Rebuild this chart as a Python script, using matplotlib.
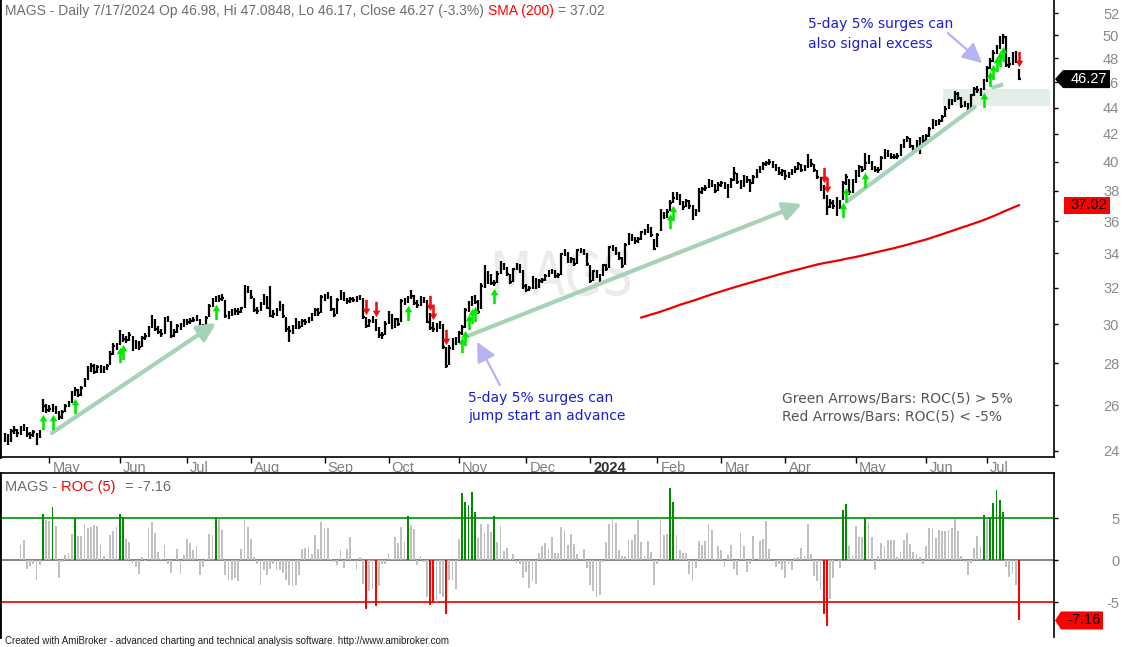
import numpy as np
import pandas as pd
import matplotlib
matplotlib.use("Agg")
import matplotlib.pyplot as plt
import matplotlib.transforms as mtransforms
from matplotlib.path import Path
from matplotlib.textpath import TextPath
from matplotlib.font_manager import FontProperties
from matplotlib.patches import PathPatch, Polygon, Rectangle
from matplotlib.ticker import NullLocator

plt.rcParams['font.family'] = ['Liberation Sans', 'DejaVu Sans']

# MAGS daily bars, Apr 2023 - Jul 17 2024
close = [
    24.55, 24.40, 24.85, 24.90, 24.75, 24.95, 25.00, 24.70, 24.65, 24.80,
    24.40, 24.80, 25.95, 25.80, 25.85, 25.90, 25.70, 25.45, 25.70, 25.95,
    26.10, 26.55, 26.70, 26.50, 26.80, 27.20, 27.70, 27.85, 27.60, 27.80,
    27.70, 27.75, 27.85, 28.45, 28.85, 28.80, 29.30, 29.25, 29.20, 29.45,
    28.75, 29.10, 28.80, 29.30, 29.40, 29.80, 30.40, 29.75, 29.60, 29.50,
    30.30, 30.30, 29.40, 29.60, 29.90, 29.85, 30.20, 30.10, 30.20, 30.25,
    30.35, 29.75, 29.90, 30.35, 31.00, 31.30, 31.40, 31.35, 31.45, 30.44,
    30.55, 30.65, 30.69, 30.66, 30.85, 32.02, 31.88, 31.46, 30.78, 30.70,
    31.09, 31.53, 30.89, 30.47, 30.56, 30.72, 31.15, 30.43, 29.74, 29.67,
    29.77, 30.25, 29.88, 30.16, 30.12, 30.25, 30.46, 30.78, 30.58, 31.51,
    31.40, 31.62, 30.83, 30.52, 31.32, 31.78, 31.34, 31.25, 31.37, 31.32,
    31.40, 31.47, 30.38, 29.90, 30.16, 30.33, 29.77, 29.44, 29.42, 30.04,
    30.60, 29.83, 30.26, 30.04, 31.24, 31.27, 31.41, 31.53, 31.15, 31.05,
    31.43, 31.33, 30.14, 29.80, 29.75, 29.87, 30.08, 28.81, 27.85, 28.79,
    29.18, 29.06, 29.53, 29.84, 30.78, 31.11, 31.41, 31.23, 30.65, 32.10,
    32.12, 32.76, 32.29, 32.27, 32.81, 33.44, 33.12, 32.77, 32.32, 33.06,
    33.34, 32.99, 32.08, 31.88, 31.99, 32.51, 32.07, 32.37, 32.42, 32.66,
    32.95, 32.97, 32.66, 32.71, 33.97, 34.14, 33.56, 33.67, 33.35, 34.22,
    34.19, 34.01, 33.37, 32.38, 32.95, 32.69, 32.62, 33.32, 33.09, 34.37,
    34.31, 34.05, 33.72, 33.26, 34.54, 35.13, 34.87, 34.77, 34.86, 35.30,
    35.31, 35.67, 35.12, 34.30, 35.12, 36.50, 36.30, 36.60, 37.20, 37.50,
    37.70, 37.20, 36.90, 37.30, 37.00, 36.60, 36.50, 37.90, 38.10, 38.20,
    38.60, 38.40, 38.00, 38.40, 38.50, 38.30, 38.20, 38.70, 39.20, 38.60,
    38.30, 38.90, 38.70, 38.50, 38.90, 39.30, 39.50, 39.80, 39.90, 40.00,
    39.70, 39.50, 39.20, 39.30, 39.00, 39.10, 39.30, 39.50, 39.80, 39.40,
    39.60, 40.10, 39.80, 39.40, 38.90, 38.50, 37.60, 36.90, 37.20, 37.00,
    36.80, 37.20, 38.50, 38.90, 37.90, 38.60, 38.90, 39.60, 39.40, 39.90,
    39.98, 39.55, 39.40, 39.38, 40.26, 40.66, 40.50, 40.35, 40.32, 40.42,
    41.07, 41.47, 41.66, 41.11, 40.82, 41.38, 41.64, 41.49, 41.81, 42.39,
    42.91, 42.76, 42.98, 43.27, 43.87, 44.45, 44.41, 45.09, 44.78, 44.09,
    44.38, 43.66, 44.95, 45.45, 45.37, 45.09, 46.02, 47.15, 47.81, 48.45,
    48.88, 49.33, 49.86, 47.45, 47.50, 48.10, 47.85, 46.27,
]
high = [
    24.75, 24.70, 24.95, 25.05, 24.95, 25.05, 25.15, 25.00, 24.80, 24.90,
    24.75, 24.90, 26.30, 26.05, 26.00, 26.05, 25.95, 25.75, 25.80, 26.05,
    26.20, 26.65, 26.85, 26.75, 26.90, 27.30, 27.85, 28.00, 27.95, 27.90,
    27.90, 27.85, 27.95, 28.60, 29.00, 29.00, 29.70, 29.50, 29.40, 29.60,
    29.40, 29.20, 29.15, 29.40, 29.55, 29.90, 30.50, 30.30, 29.90, 29.75,
    30.40, 30.45, 30.20, 29.75, 30.00, 30.05, 30.30, 30.30, 30.35, 30.40,
    30.50, 30.30, 30.00, 30.45, 31.10, 31.45, 31.55, 31.60, 31.65, 31.30,
    30.70, 30.80, 30.85, 30.85, 30.95, 32.15, 32.10, 31.90, 31.40, 30.95,
    31.20, 31.65, 31.55, 32.10, 30.75, 30.85, 31.25, 31.10, 30.40, 29.90,
    29.95, 30.35, 30.20, 30.30, 30.30, 30.40, 30.60, 30.90, 30.85, 31.60,
    31.65, 31.75, 31.55, 30.90, 31.45, 31.90, 31.75, 31.45, 31.50, 31.50,
    31.55, 31.60, 31.40, 30.40, 30.30, 30.45, 30.30, 29.85, 29.60, 30.15,
    30.70, 30.55, 30.35, 30.35, 31.35, 31.45, 31.55, 31.90, 31.60, 31.30,
    31.55, 31.50, 31.30, 30.60, 30.10, 30.05, 30.20, 30.00, 28.80, 28.90,
    29.30, 29.35, 29.65, 29.95, 30.90, 31.25, 31.55, 31.60, 31.30, 32.30,
    33.30, 32.95, 32.80, 32.45, 32.95, 33.55, 33.45, 33.20, 32.80, 33.15,
    33.45, 33.40, 33.00, 32.20, 32.10, 32.65, 32.55, 32.50, 32.55, 32.80,
    33.05, 33.10, 33.00, 32.85, 34.05, 34.30, 34.10, 33.80, 33.75, 34.30,
    34.35, 34.25, 34.00, 33.30, 33.05, 33.00, 32.80, 33.40, 33.40, 34.45,
    34.50, 34.40, 34.10, 33.80, 34.65, 35.25, 35.20, 35.00, 35.00, 35.40,
    35.50, 35.80, 35.65, 34.90, 35.25, 36.80, 36.60, 36.75, 37.35, 37.90,
    37.90, 37.75, 37.30, 37.45, 37.40, 37.05, 36.75, 38.20, 38.25, 38.35,
    38.75, 38.70, 38.45, 38.55, 38.65, 38.60, 38.45, 38.85, 39.60, 39.20,
    38.70, 39.05, 39.00, 38.80, 39.05, 39.45, 39.65, 39.95, 40.05, 40.15,
    40.05, 39.80, 39.60, 39.45, 39.40, 39.25, 39.45, 39.65, 39.95, 39.85,
    39.75, 40.50, 40.20, 39.85, 39.40, 38.95, 38.40, 37.70, 37.45, 37.40,
    37.55, 37.35, 38.65, 39.10, 38.80, 38.75, 39.40, 39.75, 39.70, 40.60,
    40.45, 40.05, 39.70, 39.60, 40.40, 40.90, 40.85, 40.60, 40.55, 40.60,
    41.25, 41.65, 41.85, 41.70, 41.20, 41.55, 41.80, 41.90, 42.00, 42.55,
    43.10, 43.05, 43.15, 43.40, 44.10, 44.65, 44.70, 45.30, 45.20, 44.85,
    44.55, 44.35, 45.10, 45.65, 45.70, 45.55, 46.25, 47.35, 48.05, 48.70,
    49.15, 49.95, 50.10, 49.90, 48.10, 48.55, 48.60, 47.08,
]
low = [
    24.35, 24.25, 24.35, 24.70, 24.60, 24.65, 24.85, 24.60, 24.50, 24.60,
    24.25, 24.55, 25.70, 25.65, 25.70, 25.70, 25.60, 25.35, 25.40, 25.70,
    25.90, 26.10, 26.45, 26.40, 26.45, 26.85, 27.20, 27.60, 27.50, 27.55,
    27.55, 27.55, 27.65, 27.90, 28.40, 28.65, 28.90, 29.10, 29.05, 29.15,
    28.60, 28.70, 28.65, 28.80, 29.20, 29.35, 29.80, 29.65, 29.50, 29.35,
    29.50, 30.10, 29.30, 29.35, 29.55, 29.70, 29.85, 29.95, 30.00, 30.10,
    30.15, 29.60, 29.70, 29.90, 30.40, 30.95, 31.20, 31.20, 31.25, 30.35,
    30.30, 30.45, 30.50, 30.50, 30.60, 30.90, 31.70, 31.35, 30.65, 30.55,
    30.70, 31.05, 30.80, 30.40, 30.35, 30.45, 30.70, 30.35, 29.60, 29.10,
    29.50, 29.75, 29.75, 29.85, 29.95, 30.05, 30.20, 30.45, 30.45, 30.60,
    31.25, 31.35, 30.70, 30.40, 30.55, 31.30, 31.25, 31.10, 31.15, 31.20,
    31.20, 31.30, 30.30, 29.80, 29.85, 30.05, 29.65, 29.30, 29.25, 29.45,
    30.00, 29.75, 29.80, 29.90, 30.10, 31.05, 31.15, 31.35, 31.05, 30.90,
    31.00, 31.15, 30.05, 29.70, 29.60, 29.60, 29.75, 28.70, 27.75, 27.90,
    28.65, 28.90, 29.00, 29.45, 29.80, 30.65, 31.00, 31.10, 30.55, 30.80,
    32.00, 32.20, 32.15, 32.10, 32.25, 32.80, 33.00, 32.65, 32.20, 32.35,
    33.00, 32.85, 31.95, 31.75, 31.80, 31.95, 31.95, 32.00, 32.25, 32.40,
    32.60, 32.80, 32.55, 32.55, 32.75, 33.85, 33.45, 33.45, 33.25, 33.40,
    34.00, 33.90, 33.25, 32.25, 32.40, 32.55, 32.20, 32.65, 32.95, 33.15,
    34.15, 33.90, 33.60, 33.15, 33.30, 34.50, 34.75, 34.60, 34.65, 34.85,
    35.15, 35.25, 35.00, 34.20, 34.40, 35.40, 36.15, 36.20, 36.65, 37.15,
    37.35, 37.05, 36.70, 36.90, 36.80, 36.10, 36.30, 36.60, 37.80, 37.95,
    38.15, 38.25, 37.85, 37.95, 38.25, 38.10, 37.50, 38.15, 38.65, 38.45,
    38.10, 38.25, 38.50, 37.90, 38.45, 38.85, 39.20, 39.40, 39.65, 39.75,
    39.55, 39.30, 39.05, 39.00, 38.70, 38.85, 39.05, 39.20, 39.40, 39.25,
    39.30, 39.55, 39.60, 39.25, 38.75, 38.00, 37.45, 36.40, 36.85, 36.80,
    36.30, 36.75, 37.40, 38.40, 37.70, 37.85, 38.50, 38.95, 39.25, 39.40,
    39.80, 39.40, 39.25, 39.20, 39.40, 40.20, 40.35, 40.20, 40.15, 40.20,
    40.40, 41.00, 41.40, 41.00, 40.65, 40.80, 40.55, 41.35, 41.45, 41.80,
    42.35, 42.60, 42.70, 42.90, 43.25, 43.90, 44.20, 44.40, 44.60, 43.95,
    44.05, 43.55, 43.70, 44.90, 45.15, 44.90, 45.35, 46.00, 47.10, 47.70,
    48.40, 48.80, 49.20, 47.30, 47.20, 47.40, 47.60, 46.17,
]
# ROC(5) in percent, first five bars have no value
roc5 = [np.nan] * 5 + [
    1.79, 2.42, -1.0, -0.7, -0.45, -2.4, -0.6, 5.5, 4.76, 4.7,
    6.3, 4.1, -2.06, -0.25, 0.6, 0.87, 3.1, 5.1, 2.9, 2.9,
    4.3, 3.8, 4.0, 4.2, 4.1, 1.8, 0.5, 0.05, 3.0, 3.5,
    4.0, 5.5, 5.1, 2.5, 2.2, -0.4, -0.8, -1.6, 0.4, -0.1,
    3.8, 4.6, 3.3, 1.0, 0.15, 1.8, -0.4, -1.5, 0.05, 1.35,
    -1.6, 0.6, 2.5, 2.1, 1.2, 1.7, -1.8, -0.8, 0.15, 3.1,
    3.05, 5.1, 4.9, 3.6, -1.8, -2.4, -2.4, -2.1, -2.5, 1.35,
    4.8, 4.0, 2.5, 0.4, -0.5, -2.9, -1.1, -1.8, -1.0, -0.45,
    -1.2, -1.2, -1.5, -2.4, -2.9, -3.1, -2.9, -1.8, 1.4, 1.5,
    1.6, 0.7, 3.0, 1.4, 4.6, 3.8, 3.8, 0.15, -0.2, -0.6,
    1.2, -0.9, 1.35, 2.8, 0.05, -1.2, 0.4, -2.8, -5.75, -3.7,
    -3.4, -5.4, -3.1, -0.5, -0.4, 0.9, 0.2, 2.8, 2.1, 4.0,
    2.2, 5.3, 4.2, 3.7, -0.6, 0.5, -0.25, -4.4, -5.3, -5.1,
    -4.95, -4.0, -4.4, -6.35, -2.3, -2.3, -3.4, 2.5, 8.0, 6.9,
    6.6, 8.1, 5.75, 2.7, 4.3, 3.25, 4.3, 3.4, 5.3, 2.2,
    4.1, 1.1, 1.5, 0.15, 0.75, -0.3, -0.4, -2.1, -1.35, -3.25,
    -2.5, -2.8, 0.9, 1.7, 2.1, 1.35, 2.8, 0.9, 0.9, 4.0,
    3.6, 1.8, 3.1, 1.95, 0.75, 0.15, 1.35, -0.9, -2.9, -3.7,
    -4.4, -4.1, -0.15, 2.2, 4.3, 4.95, 4.4, 1.2, 0.5, 0.5,
    2.4, 2.4, 3.1, 4.8, 2.2, 0.5, 2.3, 1.0, -3.0, -0.5,
    4.9, 3.0, 3.1, 8.6, 6.9, 3.0, 1.27, 0.83, 0.83, -1.6,
    -2.5, -0.9, 2.3, 1.8, 2.3, 4.3, 3.6, 0.15, 1.7, 1.2,
    -0.75, 0.6, 1.8, -1.0, -1.7, 3.25, 1.7, -1.35, -0.4, 2.9,
    0.05, 2.3, 2.5, 4.7, 1.35, 0.05, -0.75, -0.4, -1.2, -2.1,
    -0.5, -1.2, 0.3, 0.4, 1.5, 0.5, 4.3, 0.8, -1.9, -2.5,
    -3.5, -6.35, -7.8, -4.6, -2.1, 0.05, -0.9, 6.0, 6.7, 1.7,
    0.6, 4.1, 2.8, 2.75, 5.2, 4.6, 2.8, -1.1, 0.5, 2.1,
    1.7, 2.4, 2.4, 2.4, 0.4, 1.0, 2.4, 3.25, 1.95, 1.0,
    0.75, 0.4, -0.4, 1.7, 3.85, 3.7, 2.7, 3.6, 3.5, 3.5,
    3.6, 3.85, 4.9, 3.5, 0.5, -0.15, -1.7, -0.3, 1.5, 2.9,
    1.6, 5.4, 4.9, 5.2, 6.8, 8.4, 7.2, 5.75, -0.75, -1.95,
    -1.6, -3.0, -7.16,
]

month_idx = [14, 36, 57, 77, 100, 120, 142, 163, 183, 204, 224, 244, 266, 288, 307]
month_lbl = ['May', 'Jun', 'Jul', 'Aug', 'Sep', 'Oct', 'Nov', 'Dec', '2024',
             'Feb', 'Mar', 'Apr', 'May', 'Jun', 'Jul']
price_ticks = [24, 26, 28, 30, 32, 34, 36, 38, 40, 42, 44, 46, 48, 50, 52]
roc_ticks = [-5, 0, 5]

# drawn annotations: (bar, price) pairs
trend_lines = [((14.8, 24.76), (66.1, 30.07), True),
               ((143.3, 29.29), (249.2, 37.11), True),
               ((263.2, 37.26), (303.6, 44.12), False),
               ((308.5, 45.57), (312.1, 45.84), False)]
callouts = [((154.8, 26.95), (147.7, 29.08)),
            ((294.8, 50.19), (305.5, 47.60))]
zone = (293.3, 326.7, 44.12, 45.47)

W, H = 1123, 647
fig = plt.figure(figsize=(W / 100, H / 100), dpi=100)
fig.patch.set_facecolor('white')


def px_rect(left, top, right, bottom):
    return [left / W, 1 - bottom / H, (right - left) / W, (bottom - top) / H]


ax = fig.add_axes(px_rect(0, 0, 1054, 457))
axr = fig.add_axes(px_rect(0, 473, 1054, 637))

n = len(close)
idx = np.arange(n)
close_a = np.array(close)
high_a = np.array(high)
low_a = np.array(low)
roc_a = np.array(roc5)
sma = pd.Series(close_a).rolling(200).mean()

x0, dx = 4.5, 3.2
xlim = (-x0 / dx, (1054 - x0) / dx)

# ---- price panel
ax.set_yscale('log')
ax.set_xlim(*xlim)
ax.set_ylim(23.73, 53.21)

# watermark
tp = TextPath((0, 0), 'MAGS', size=100, prop=FontProperties(family='DejaVu Sans'))
bb = tp.get_extents()
wm_tr = (mtransforms.Affine2D().translate(-bb.x0, -bb.y0)
         .scale(135 / bb.width, 46 / bb.height).translate(495, H - 296))
ax.add_patch(PathPatch(tp, transform=wm_tr, facecolor='#ebebeb', edgecolor='none', zorder=0.5))

ax.add_patch(Rectangle((zone[0], zone[2]), zone[1] - zone[0], zone[3] - zone[2],
                       facecolor='#e2eee7', edgecolor='none', zorder=1))

ax.vlines(idx, low_a, high_a, color='black', lw=1.6, zorder=2)
ax.hlines(close_a, idx, idx + 0.55, color='black', lw=1.6, zorder=2)
ax.plot(idx, sma, color='#ee0000', lw=1.6, zorder=2)

tl_color = '#a6d3b7'
for (p0, p1, head) in trend_lines:
    if head:
        ax.annotate('', xy=p1, xytext=p0,
                    arrowprops=dict(arrowstyle='-|>,head_length=0.9,head_width=0.45',
                                    lw=3.0, color=tl_color, mutation_scale=12,
                                    shrinkA=0, shrinkB=0), zorder=3)
    else:
        ax.plot([p0[0], p1[0]], [p0[1], p1[1]], color=tl_color, lw=3.0,
                solid_capstyle='butt', zorder=3)

for (p0, p1) in callouts:
    ax.annotate('', xy=p1, xytext=p0,
                arrowprops=dict(arrowstyle='-|>,head_length=1.0,head_width=0.5',
                                lw=1.6, color='#b4b4f2', mutation_scale=12,
                                shrinkA=0, shrinkB=0), zorder=3)

up_arrow = Path([(0, 1), (0.5, 0.15), (0.17, 0.15), (0.17, -1), (-0.17, -1),
                 (-0.17, 0.15), (-0.5, 0.15), (0, 1)], closed=True)
down_arrow = Path([(0, -1), (0.5, -0.15), (0.17, -0.15), (0.17, 1), (-0.17, 1),
                   (-0.17, -0.15), (-0.5, -0.15), (0, -1)], closed=True)
up_sig = roc_a > 5
dn_sig = roc_a < -5
off_dn = mtransforms.ScaledTranslation(0, -0.10, fig.dpi_scale_trans)
off_up = mtransforms.ScaledTranslation(0, 0.10, fig.dpi_scale_trans)
ax.plot(idx[up_sig], low_a[up_sig], ls='none', marker=up_arrow, ms=11,
        color='#00e800', mew=0, transform=ax.transData + off_dn, zorder=4)
ax.plot(idx[dn_sig], high_a[dn_sig], ls='none', marker=down_arrow, ms=11,
        color='#ee1010', mew=0, transform=ax.transData + off_up, zorder=4)

ax.yaxis.tick_right()
ax.set_yticks(price_ticks)
ax.set_yticklabels([str(t) for t in price_ticks])
ax.yaxis.set_minor_locator(NullLocator())
ax.tick_params(axis='y', direction='out', length=3, width=1, color='black',
               labelsize=10.5, labelcolor='#8a8a8a', pad=44)
for lab in ax.get_yticklabels():
    lab.set_horizontalalignment('right')
ax.set_xticks(month_idx)
ax.set_xticklabels([])
ax.tick_params(axis='x', direction='out', length=4.5, width=1, color='black')
ax.spines['top'].set_visible(False)
for s in ('left', 'right', 'bottom'):
    ax.spines[s].set_color('black')
ax.spines['left'].set_linewidth(2)
ax.spines['right'].set_linewidth(1.2)
ax.spines['bottom'].set_linewidth(1.2)

xt = mtransforms.blended_transform_factory(ax.transData, ax.transAxes)
for m, lbl in zip(month_idx, month_lbl):
    bold = lbl == '2024'
    ax.text(m + 1.0, -0.0235, lbl, transform=xt, ha='left', va='center',
            fontsize=10.5, color='#303030' if bold else '#808080',
            fontweight='bold' if bold else 'normal', clip_on=False)

# ---- ROC panel
axr.set_xlim(*xlim)
axr.set_ylim(-9.13, 10.39)
bar_col = ['#008c00' if v > 5 else ('#ff0000' if v < -5 else '#c0c0c0') for v in roc5]
axr.bar(idx, np.nan_to_num(roc_a), width=0.62, color=bar_col, zorder=2)
axr.axhline(5, color='#009000', lw=1.2, zorder=1)
axr.axhline(0, color='#707070', lw=1.2, zorder=1)
axr.axhline(-5, color='#e00000', lw=1.2, zorder=1)
axr.yaxis.tick_right()
axr.set_yticks(roc_ticks)
axr.set_yticklabels([str(t) for t in roc_ticks])
axr.tick_params(axis='y', direction='out', length=3, width=1, color='black',
                labelsize=10.5, labelcolor='#8a8a8a', pad=44)
for lab in axr.get_yticklabels():
    lab.set_horizontalalignment('right')
axr.set_xticks([])
axr.spines['bottom'].set_visible(False)
axr.spines['left'].set_linewidth(2)
axr.spines['right'].set_linewidth(1.2)
axr.spines['top'].set_linewidth(1.2)

# ---- value boxes on the right axis
ident = mtransforms.IdentityTransform()


def value_box(axis, value, text, face, fg, left, right, half, tip):
    yd = axis.transData.transform((0, value))[1]
    if tip:
        pts = [(1055, yd), (left, yd + half), (right, yd + half), (right, yd - half), (left, yd - half)]
    else:
        pts = [(left, yd + half), (right, yd + half), (right, yd - half), (left, yd - half)]
    fig.add_artist(Polygon(pts, closed=True, facecolor=face, edgecolor='none', transform=ident))
    fig.text((left + right) / 2 + 2, yd, text, transform=ident, ha='center', va='center',
             fontsize=10.5, color=fg)


value_box(ax, close[-1], f'{close[-1]:.2f}', 'black', 'white', 1063, 1110, 9, True)
value_box(ax, sma.iloc[-1], '37.02', '#ff0000', 'black', 1064, 1110, 8.5, False)
value_box(axr, roc5[-1], f'{roc5[-1]:.2f}', '#ff0000', 'black', 1061, 1103, 9, True)

# ---- texts
renderer = fig.canvas.get_renderer()


def text_row(x, y, parts, size):
    for s, c, gap in parts:
        t = fig.text(x / W, 1 - y / H, s, color=c, fontsize=size, ha='left', va='center')
        x += t.get_window_extent(renderer).width + gap


gray = '#6e6e6e'
text_row(5, 11, [('MAGS - Daily 7/17/2024 Op 46.98, Hi 47.0848, Lo 46.17, Close 46.27 (-3.3%)', gray, 4),
                 ('SMA (200)', '#ff0000', 4), ('= 37.02', gray, 0)], 10)
text_row(5, 487, [('MAGS -', gray, 4), ('ROC (5)', '#ff0000', 9), ('= -7.16', gray, 0)], 10.5)

blue = '#1c1cd6'
for (x, y, s) in [(468, 398, '5-day 5% surges can'), (468, 416, 'jump start an advance'),
                  (808, 24, '5-day 5% surges can'), (808, 44, 'also signal excess')]:
    fig.text(x / W, 1 - y / H, s, color=blue, fontsize=10, family='DejaVu Sans', ha='left', va='center')
for (x, y, s) in [(782, 398, 'Green Arrows/Bars: ROC(5) > 5%'), (782, 417, 'Red Arrows/Bars: ROC(5) < -5%')]:
    fig.text(x / W, 1 - y / H, s, color='#555555', fontsize=10, family='DejaVu Sans', ha='left', va='center')

fig.text(5 / W, 1 - 641 / H,
         'Created with AmiBroker - advanced charting and technical analysis software. http://www.amibroker.com',
         fontsize=7, color='#202020', ha='left', va='center')

fig.savefig('out.png', dpi=100)
